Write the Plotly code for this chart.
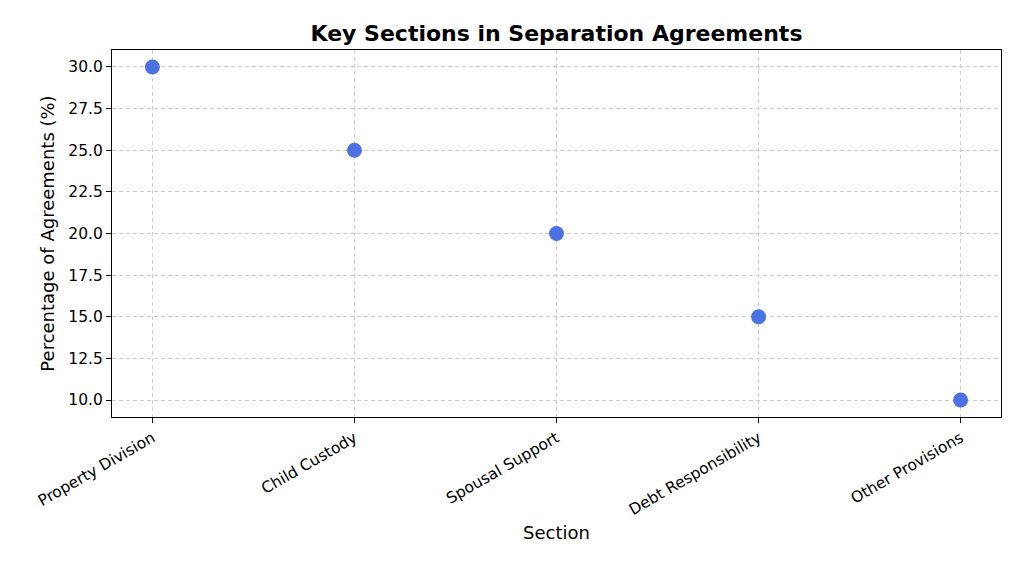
import plotly.graph_objects as go

sections = ["Property Division", "Child Custody", "Spousal Support", "Debt Responsibility", "Other Provisions"]
percentages = [30, 25, 20, 15, 10]
y_ticks = [10.0, 12.5, 15.0, 17.5, 20.0, 22.5, 25.0, 27.5, 30.0]

fig = go.Figure()
fig.add_trace(go.Scatter(
    x=list(range(len(sections))), y=percentages, mode="markers",
    marker=dict(size=15, color="#4169E1", opacity=0.95, line=dict(width=0)),
    showlegend=False,
))

font = "DejaVu Sans, sans-serif"
fig.update_layout(
    width=1024, height=569,
    paper_bgcolor="white", plot_bgcolor="white",
    margin=dict(l=104, r=31, t=42, b=160),
    title=dict(text="<b>Key Sections in Separation Agreements</b>", x=0.5, xref="paper", xanchor="center",
               y=0.956, yanchor="middle", font=dict(family=font, size=22, color="black")),
    font=dict(family=font, color="black"),
)
fig.update_xaxes(
    range=[-0.2, 4.2], tickmode="array", tickvals=list(range(len(sections))), ticktext=sections,
    tickangle=-30, tickfont=dict(size=15.5), ticks="outside", ticklen=5, tickcolor="black",
    showgrid=True, gridcolor="#cccccc", griddash="4px,3px", gridwidth=1,
    showline=True, linecolor="black", linewidth=1.2, mirror=True, zeroline=False,
    title=dict(text="Section", font=dict(size=18), standoff=8),
)
fig.update_yaxes(
    range=[8.98, 31.02], tickmode="array", tickvals=y_ticks, ticktext=[f"{v:.1f}" for v in y_ticks],
    tickfont=dict(size=15.5), ticks="outside", ticklen=5, tickcolor="black",
    showgrid=True, gridcolor="#cccccc", griddash="4px,3px", gridwidth=1,
    showline=True, linecolor="black", linewidth=1.2, mirror=True, zeroline=False,
    title=dict(text="Percentage of Agreements (%)", font=dict(size=18), standoff=8),
)
fig.write_html("out.html")
